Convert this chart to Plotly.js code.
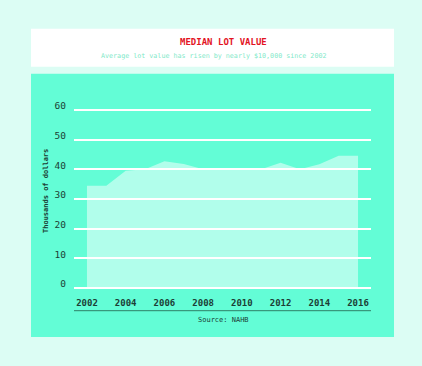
<!DOCTYPE html>
<html>
<head>
<meta charset="utf-8">
<script src="https://cdn.plot.ly/plotly-3.0.1.min.js"></script>
<style>html,body{margin:0;padding:0;background:#dcfdf4;}#chart{width:422px;height:366px;}</style>
</head>
<body>
<div id="chart"></div>
<script>
const years = [2002,2003,2004,2005,2006,2007,2008,2009,2010,2011,2012,2013,2014,2015,2016];
const lotValue = [34.5,34.5,39.5,40,42.7,41.8,40,40,40,40,42.2,40,41.7,44.6,44.6];
const xTicks = [2002,2004,2006,2008,2010,2012,2014,2016];
const yTicks = [0,10,20,30,40,50,60];

const mono = "DejaVu Sans Mono, monospace";
const dark = "#1c3d35";

const trace = {
  x: years, y: lotValue, type: 'scatter', mode: 'lines',
  line: {width: 0, color: 'rgba(255,255,255,0)'},
  fill: 'tozeroy', fillcolor: 'rgba(255,255,255,0.5)',
  hoverinfo: 'skip'
};

const L = 74, R = 371, T = 105, B = 292;
const W = R - L, H = B - T;
const px = v => (v - L) / W;
const py = v => (B - v) / H;

const layout = {
  width: 422, height: 366,
  margin: {l: L, r: 422 - R, t: T, b: 366 - B},
  paper_bgcolor: '#dcfdf4',
  plot_bgcolor: 'rgba(0,0,0,0)',
  showlegend: false,
  title: {
    text: '<b>MEDIAN LOT VALUE</b>',
    font: {family: mono, size: 9, color: '#e3141f'},
    x: 0.503, xref: 'paper', xanchor: 'center',
    y: 1 - 42/366, yref: 'container', yanchor: 'middle'
  },
  xaxis: {
    range: [2001.33, 2016.67],
    tickvals: xTicks, ticktext: xTicks.map(String),
    showgrid: false, zeroline: false, showline: false, ticks: '',
    ticklabelstandoff: 4,
    tickfont: {family: mono, size: 9, color: dark, weight: 'bold'},
    fixedrange: true
  },
  yaxis: {
    range: [-1.35, 61.69],
    tickvals: yTicks, ticktext: yTicks.map(String),
    showgrid: true, gridcolor: '#ffffff', gridwidth: 2,
    zeroline: false, showline: false, ticks: '',
    ticklabelstandoff: 7,
    ticklabelshift: -4,
    tickfont: {family: mono, size: 9.5, color: dark},
    fixedrange: true
  },
  shapes: [
    {type: 'rect', xref: 'paper', yref: 'paper', x0: px(31), x1: px(394), y0: py(66.7), y1: py(28.7),
     fillcolor: '#ffffff', line: {width: 0}, layer: 'below'},
    {type: 'rect', xref: 'paper', yref: 'paper', x0: px(31), x1: px(394), y0: py(337), y1: py(73.7),
     fillcolor: '#63fdd6', line: {width: 0}, layer: 'below'},
    {type: 'line', xref: 'paper', yref: 'paper', x0: 0, x1: 1, y0: py(310.7), y1: py(310.7),
     line: {color: '#2f8068', width: 1}, layer: 'above'}
  ],
  annotations: [
    {text: 'Average lot value has risen by nearly $10,000 since 2002', xref: 'paper', yref: 'paper',
     x: px(213), y: py(56), showarrow: false, xanchor: 'center', yanchor: 'middle',
     font: {family: mono, size: 6.7, color: '#7fe9c9'}},
    {text: '<b>Thousands of dollars</b>', xref: 'paper', yref: 'paper', textangle: -90,
     x: px(46), y: py(191), showarrow: false, xanchor: 'center', yanchor: 'middle',
     font: {family: mono, size: 7, color: dark}},
    {text: 'Source: NAHB', xref: 'paper', yref: 'paper',
     x: px(223), y: py(319.5), showarrow: false, xanchor: 'center', yanchor: 'middle',
     font: {family: mono, size: 7, color: dark}}
  ]
};

Plotly.newPlot('chart', [trace], layout, {displayModeBar: false, staticPlot: true});
</script>
</body>
</html>
